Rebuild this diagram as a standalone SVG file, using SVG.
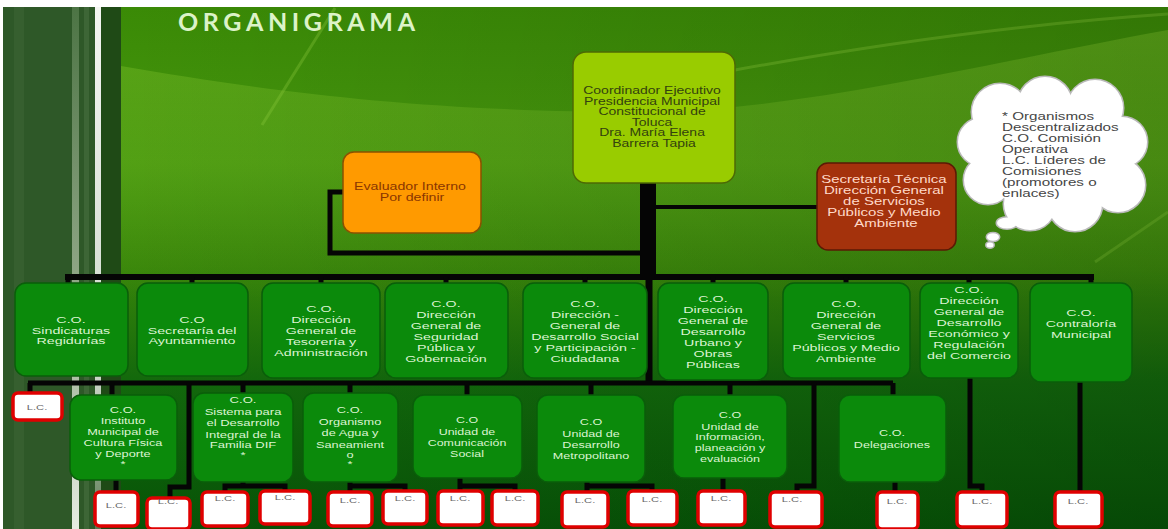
<svg xmlns="http://www.w3.org/2000/svg" width="1168" height="529" viewBox="0 0 1168 529">
<defs>
<linearGradient id="bg" x1="0" y1="0" x2="0" y2="1">
<stop offset="0" stop-color="#3a8a06"/>
<stop offset="0.3" stop-color="#46960e"/>
<stop offset="0.5" stop-color="#38850a"/>
<stop offset="0.72" stop-color="#12680c"/>
<stop offset="1" stop-color="#075407"/>
</linearGradient>
<linearGradient id="shade" x1="0" y1="0" x2="1" y2="0">
<stop offset="0" stop-color="#000" stop-opacity="0"/>
<stop offset="1" stop-color="#000" stop-opacity="0.14"/>
</linearGradient>
<linearGradient id="swoosh" x1="0" y1="0" x2="0" y2="1">
<stop offset="0" stop-color="#7cc02a" stop-opacity="0.45"/>
<stop offset="1" stop-color="#7cc02a" stop-opacity="0"/>
</linearGradient>
<linearGradient id="stripe" x1="0" y1="0" x2="0" y2="1">
<stop offset="0" stop-color="#4c7444"/>
<stop offset="0.6" stop-color="#9aae90"/>
<stop offset="1" stop-color="#e6ece2"/>
</linearGradient>
<linearGradient id="white" x1="0" y1="0" x2="0" y2="1">
<stop offset="0" stop-color="#f4f6f2"/>
<stop offset="0.7" stop-color="#cfd8cc"/>
<stop offset="1" stop-color="#5a7a52"/>
</linearGradient>
<style>
.co{fill:#0b8a0b;stroke:#0a5e0a;stroke-width:1.5}
.t{font-family:"Liberation Sans",Arial,sans-serif;text-anchor:middle}
.tw{fill:#dcf4d2;font-size:9.5px}
.t3{fill:#dcf4d2;font-size:9px}
.lc{fill:#ffffff;stroke:#e00000;stroke-width:3.5}
.lct{font-family:"Liberation Sans",Arial,sans-serif;text-anchor:middle;font-size:8px;fill:#666}
.ln{stroke:#050505;fill:none}
.cl{fill:#fff;stroke:#b9b9b9;stroke-width:3}
.cf{fill:#fff}
</style>
</defs>

<!-- background -->
<rect width="1168" height="529" fill="#ffffff"/>
<rect x="3" y="7" width="92" height="522" fill="#2e5828"/>
<rect x="14" y="7" width="10" height="522" fill="#365f2f"/>
<rect x="72" y="7" width="7" height="522" fill="url(#stripe)"/>
<rect x="84" y="7" width="5" height="522" fill="#3d6636"/>
<rect x="95" y="7" width="6" height="522" fill="url(#white)"/>
<rect x="101" y="7" width="20" height="522" fill="#1f4a16"/>
<rect x="121" y="7" width="1047" height="522" fill="url(#bg)"/>
<path d="M121 66 C 260 90 420 112 640 112 C 800 112 1000 60 1168 30 L1168 300 L121 300 Z" fill="url(#swoosh)"/>
<path d="M735 70 C 900 40 1050 22 1168 14" stroke="#8ccc3c" stroke-opacity="0.35" stroke-width="3" fill="none"/>
<path d="M335 8 L262 125" stroke="#8ccc3c" stroke-opacity="0.35" stroke-width="3" fill="none"/>
<path d="M1095 262 L1168 212" stroke="#8ccc3c" stroke-opacity="0.3" stroke-width="3" fill="none"/>
<rect x="121" y="7" width="1047" height="522" fill="url(#shade)"/>

<text x="178" y="31" font-family="Lato,'Liberation Sans',sans-serif" font-weight="700" font-size="25" fill="#dcf3c8" textLength="237" lengthAdjust="spacing">ORGANIGRAMA</text>

<!-- connectors -->
<g id="connectors">
<path class="ln" stroke-width="16" d="M648 182 V279"/>
<path class="ln" stroke-width="7" d="M649 279 V385"/>
<path class="ln" stroke-width="5" d="M344 192 H330 V253 H641"/>
<path class="ln" stroke-width="4" d="M656 207 H818"/>
<path class="ln" stroke-width="6" d="M65 277 H1094"/>
<path class="ln" stroke-width="5" d="M68 277 V285 M192 277 V285 M321 277 V285 M446 277 V285 M585 277 V285 M713 277 V285 M846 277 V285 M969 277 V285 M1091 277 V285"/>
<path class="ln" stroke-width="5" d="M28 383 H893"/>
<path class="ln" stroke-width="5" d="M30 383 V394 M112 383 V397 M243 383 V395 M350 383 V395 M467 383 V397 M591 383 V397 M730 383 V397 M893 383 V397"/>
<path class="ln" stroke-width="5" d="M189 383 V487 H170 V499"/>
<path class="ln" stroke-width="5" d="M116 480 V493"/>
<path class="ln" stroke-width="5" d="M225 493 V486 H285 V492 M243 482 V486"/>
<path class="ln" stroke-width="5" d="M350 482 V493 M350 486 H405 V492"/>
<path class="ln" stroke-width="5" d="M460 478 V492 M460 486 H515 V492"/>
<path class="ln" stroke-width="5" d="M587 482 V493 M587 486 H652 V492"/>
<path class="ln" stroke-width="5" d="M723 478 V492"/>
<path class="ln" stroke-width="5" d="M814 383 V486 H797 V493"/>
<path class="ln" stroke-width="5" d="M895 482 V493"/>
<path class="ln" stroke-width="5" d="M970 378 V486 H982 V493"/>
<path class="ln" stroke-width="5" d="M1080 382 V493"/>
</g>

<!-- top node -->
<g id="coordinador">
<rect x="573" y="52" width="162" height="131" rx="13" fill="#99cc00" stroke="#4d6a05" stroke-width="1.5"/>
<g transform="translate(654,0) scale(1.4,1)">
<text class="t" font-size="10" fill="#33420e">
<tspan x="0" y="94">Coordinador Ejecutivo</tspan>
<tspan x="0" y="104.6">Presidencia Municipal</tspan>
<tspan x="0" y="115.2">Constitucional de</tspan>
<tspan x="0" y="125.8">Toluca</tspan>
<tspan x="0" y="136.4">Dra. María Elena</tspan>
<tspan x="0" y="147">Barrera Tapia</tspan>
</text>
</g>
</g>

<g id="evaluador">
<rect x="343" y="152" width="138" height="81" rx="11" fill="#ff9a00" stroke="#8a5200" stroke-width="1.5"/>
<g transform="translate(412,0) scale(1.42,1)">
<text class="t" font-size="10" fill="#8a3600">
<tspan x="0" y="190">Evaluador Interno</tspan>
<tspan x="0" y="201">Por definir</tspan>
</text>
</g>
</g>

<g id="secretaria">
<rect x="817" y="163" width="139" height="87" rx="11" fill="#a4320c" stroke="#5a1a05" stroke-width="1.5"/>
<g transform="translate(886,0) scale(1.5,1)">
<text class="t" font-size="10" fill="#ffd9c8">
<tspan x="0" y="183">Secretaría Técnica</tspan>
<tspan x="0" y="194">Dirección General</tspan>
<tspan x="0" y="205">de Servicios</tspan>
<tspan x="0" y="216">Públicos y Medio</tspan>
<tspan x="0" y="227">Ambiente</tspan>
</text>
</g>
</g>

<g id="nota">
<g class="cl">
<circle cx="1000" cy="112" r="28"/>
<circle cx="1045" cy="104" r="27"/>
<circle cx="1095" cy="108" r="28"/>
<circle cx="1122" cy="142" r="25"/>
<circle cx="1118" cy="185" r="27"/>
<circle cx="1075" cy="204" r="27"/>
<circle cx="1030" cy="204" r="26"/>
<circle cx="988" cy="180" r="24"/>
<circle cx="982" cy="142" r="24"/>
<ellipse cx="1007" cy="223" rx="10" ry="5.5"/>
<ellipse cx="993" cy="237" rx="6" ry="3.8"/>
<ellipse cx="990" cy="245" rx="3.5" ry="2.5"/>
</g>
<g class="cf">
<circle cx="1000" cy="112" r="28"/>
<circle cx="1045" cy="104" r="27"/>
<circle cx="1095" cy="108" r="28"/>
<circle cx="1122" cy="142" r="25"/>
<circle cx="1118" cy="185" r="27"/>
<circle cx="1075" cy="204" r="27"/>
<circle cx="1030" cy="204" r="26"/>
<circle cx="988" cy="180" r="24"/>
<circle cx="982" cy="142" r="24"/>
<ellipse cx="1052" cy="155" rx="72" ry="58"/>
<ellipse cx="1007" cy="223" rx="10" ry="5.5"/>
<ellipse cx="993" cy="237" rx="6" ry="3.8"/>
<ellipse cx="990" cy="245" rx="3.5" ry="2.5"/>
</g>
<g transform="translate(1002,0) scale(1.45,1)">
<text font-family="'Liberation Sans',Arial,sans-serif" font-size="10.5" fill="#454545">
<tspan x="0" y="120">* Organismos</tspan>
<tspan x="0" y="131">Descentralizados</tspan>
<tspan x="0" y="142">C.O. Comisión</tspan>
<tspan x="0" y="153">Operativa</tspan>
<tspan x="0" y="164">L.C. Líderes de</tspan>
<tspan x="0" y="175">Comisiones</tspan>
<tspan x="0" y="186">(promotores o</tspan>
<tspan x="0" y="197">enlaces)</tspan>
</text>
</g>
</g>

<!-- row 2 -->
<g id="sindicaturas">
<rect class="co" x="15" y="283" width="113" height="93" rx="11"/>
<g transform="translate(71,0) scale(1.5,1)"><text class="t tw"><tspan x="0" y="323">C.O.</tspan><tspan x="0" y="334">Sindicaturas</tspan><tspan x="0" y="344">Regidurías</tspan></text></g>
</g>
<g id="secretaria-ayuntamiento">
<rect class="co" x="137" y="283" width="111" height="93" rx="11"/>
<g transform="translate(192,0) scale(1.5,1)"><text class="t tw"><tspan x="0" y="323">C.O</tspan><tspan x="0" y="334">Secretaría del</tspan><tspan x="0" y="344">Ayuntamiento</tspan></text></g>
</g>
<g id="tesoreria">
<rect class="co" x="262" y="283" width="118" height="95" rx="11"/>
<g transform="translate(321,0) scale(1.5,1)"><text class="t tw"><tspan x="0" y="312">C.O.</tspan><tspan x="0" y="323">Dirección</tspan><tspan x="0" y="334">General de</tspan><tspan x="0" y="345">Tesorería y</tspan><tspan x="0" y="356">Administración</tspan></text></g>
</g>
<g id="seguridad">
<rect class="co" x="385" y="283" width="123" height="95" rx="11"/>
<g transform="translate(446,0) scale(1.5,1)"><text class="t tw"><tspan x="0" y="307">C.O.</tspan><tspan x="0" y="318">Dirección</tspan><tspan x="0" y="329">General de</tspan><tspan x="0" y="340">Seguridad</tspan><tspan x="0" y="351">Pública y</tspan><tspan x="0" y="362">Gobernación</tspan></text></g>
</g>
<g id="desarrollo-social">
<rect class="co" x="523" y="283" width="124" height="95" rx="11"/>
<g transform="translate(585,0) scale(1.5,1)"><text class="t tw"><tspan x="0" y="307">C.O.</tspan><tspan x="0" y="318">Dirección -</tspan><tspan x="0" y="329">General de</tspan><tspan x="0" y="340">Desarrollo Social</tspan><tspan x="0" y="351">y Participación -</tspan><tspan x="0" y="362">Ciudadana</tspan></text></g>
</g>
<g id="desarrollo-urbano">
<rect class="co" x="658" y="283" width="110" height="97" rx="11"/>
<g transform="translate(713,0) scale(1.5,1)"><text class="t tw"><tspan x="0" y="302">C.O.</tspan><tspan x="0" y="313">Dirección</tspan><tspan x="0" y="324">General de</tspan><tspan x="0" y="335">Desarrollo</tspan><tspan x="0" y="346">Urbano y</tspan><tspan x="0" y="357">Obras</tspan><tspan x="0" y="368">Públicas</tspan></text></g>
</g>
<g id="servicios-publicos">
<rect class="co" x="783" y="283" width="127" height="95" rx="11"/>
<g transform="translate(846,0) scale(1.5,1)"><text class="t tw"><tspan x="0" y="307">C.O.</tspan><tspan x="0" y="318">Dirección</tspan><tspan x="0" y="329">General de</tspan><tspan x="0" y="340">Servicios</tspan><tspan x="0" y="351">Públicos y Medio</tspan><tspan x="0" y="362">Ambiente</tspan></text></g>
</g>
<g id="desarrollo-economico">
<rect class="co" x="920" y="283" width="98" height="95" rx="11"/>
<g transform="translate(969,0) scale(1.5,1)"><text class="t tw"><tspan x="0" y="293">C.O.</tspan><tspan x="0" y="304">Dirección</tspan><tspan x="0" y="315">General de</tspan><tspan x="0" y="326">Desarrollo</tspan><tspan x="0" y="337">Económico y</tspan><tspan x="0" y="348">Regulación</tspan><tspan x="0" y="359">del Comercio</tspan></text></g>
</g>
<g id="contraloria">
<rect class="co" x="1030" y="283" width="102" height="99" rx="11"/>
<g transform="translate(1081,0) scale(1.5,1)"><text class="t tw"><tspan x="0" y="316">C.O.</tspan><tspan x="0" y="327">Contraloría</tspan><tspan x="0" y="338">Municipal</tspan></text></g>
</g>

<!-- row 3 -->
<g id="cultura-fisica">
<rect class="co" x="70" y="395" width="107" height="85" rx="11"/>
<g transform="translate(123,0) scale(1.42,1)"><text class="t t3"><tspan x="0" y="413">C.O.</tspan><tspan x="0" y="424">Instituto</tspan><tspan x="0" y="435">Municipal de</tspan><tspan x="0" y="446">Cultura Física</tspan><tspan x="0" y="457">y Deporte</tspan><tspan x="0" y="467">*</tspan></text></g>
</g>
<g id="dif">
<rect class="co" x="193" y="393" width="100" height="89" rx="11"/>
<g transform="translate(243,0) scale(1.45,1)"><text class="t t3"><tspan x="0" y="403">C.O.</tspan><tspan x="0" y="415">Sistema para</tspan><tspan x="0" y="426">el Desarrollo</tspan><tspan x="0" y="438">Integral de la</tspan><tspan x="0" y="448">Familia DIF</tspan><tspan x="0" y="458">*</tspan></text></g>
</g>
<g id="agua">
<rect class="co" x="303" y="393" width="95" height="89" rx="11"/>
<g transform="translate(350,0) scale(1.42,1)"><text class="t t3"><tspan x="0" y="413">C.O.</tspan><tspan x="0" y="425">Organismo</tspan><tspan x="0" y="436">de Agua y</tspan><tspan x="0" y="448">Saneamient</tspan><tspan x="0" y="458">o</tspan><tspan x="0" y="467">*</tspan></text></g>
</g>
<g id="comunicacion">
<rect class="co" x="413" y="395" width="109" height="83" rx="11"/>
<g transform="translate(467,0) scale(1.38,1)"><text class="t t3"><tspan x="0" y="423">C.O</tspan><tspan x="0" y="435">Unidad de</tspan><tspan x="0" y="446">Comunicación</tspan><tspan x="0" y="457">Social</tspan></text></g>
</g>
<g id="metropolitano">
<rect class="co" x="537" y="395" width="108" height="87" rx="11"/>
<g transform="translate(591,0) scale(1.4,1)"><text class="t t3"><tspan x="0" y="425">C.O</tspan><tspan x="0" y="437">Unidad de</tspan><tspan x="0" y="448">Desarrollo</tspan><tspan x="0" y="459">Metropolitano</tspan></text></g>
</g>
<g id="informacion">
<rect class="co" x="673" y="395" width="114" height="83" rx="11"/>
<g transform="translate(730,0) scale(1.4,1)"><text class="t t3"><tspan x="0" y="418">C.O</tspan><tspan x="0" y="430">Unidad de</tspan><tspan x="0" y="440">Información,</tspan><tspan x="0" y="451">planeación y</tspan><tspan x="0" y="462">evaluación</tspan></text></g>
</g>
<g id="delegaciones">
<rect class="co" x="839" y="395" width="107" height="87" rx="11"/>
<g transform="translate(892,0) scale(1.4,1)"><text class="t t3"><tspan x="0" y="436">C.O.</tspan><tspan x="0" y="448">Delegaciones</tspan></text></g>
</g>

<!-- L.C. boxes -->
<g id="lc-0"><rect class="lc" x="13" y="393" width="49" height="27" rx="5"/><g transform="translate(37,0) scale(1.4,1)"><text class="lct" x="0" y="410">L.C.</text></g></g>
<g id="lc-1"><rect class="lc" x="95" y="492" width="43" height="34" rx="5"/><g transform="translate(116,0) scale(1.4,1)"><text class="lct" x="0" y="508">L.C.</text></g></g>
<g id="lc-2"><rect class="lc" x="147" y="498" width="43" height="31" rx="5"/><g transform="translate(168,0) scale(1.4,1)"><text class="lct" x="0" y="504">L.C.</text></g></g>
<g id="lc-3"><rect class="lc" x="202" y="492" width="46" height="34" rx="5"/><g transform="translate(225,0) scale(1.4,1)"><text class="lct" x="0" y="501">L.C.</text></g></g>
<g id="lc-4"><rect class="lc" x="260" y="491" width="50" height="33" rx="5"/><g transform="translate(285,0) scale(1.4,1)"><text class="lct" x="0" y="500">L.C.</text></g></g>
<g id="lc-5"><rect class="lc" x="328" y="492" width="44" height="34" rx="5"/><g transform="translate(350,0) scale(1.4,1)"><text class="lct" x="0" y="503">L.C.</text></g></g>
<g id="lc-6"><rect class="lc" x="383" y="491" width="44" height="33" rx="5"/><g transform="translate(405,0) scale(1.4,1)"><text class="lct" x="0" y="501">L.C.</text></g></g>
<g id="lc-7"><rect class="lc" x="438" y="491" width="45" height="34" rx="5"/><g transform="translate(460,0) scale(1.4,1)"><text class="lct" x="0" y="501">L.C.</text></g></g>
<g id="lc-8"><rect class="lc" x="492" y="491" width="46" height="34" rx="5"/><g transform="translate(515,0) scale(1.4,1)"><text class="lct" x="0" y="501">L.C.</text></g></g>
<g id="lc-9"><rect class="lc" x="562" y="492" width="46" height="35" rx="5"/><g transform="translate(585,0) scale(1.4,1)"><text class="lct" x="0" y="503">L.C.</text></g></g>
<g id="lc-10"><rect class="lc" x="628" y="491" width="49" height="34" rx="5"/><g transform="translate(652,0) scale(1.4,1)"><text class="lct" x="0" y="502">L.C.</text></g></g>
<g id="lc-11"><rect class="lc" x="698" y="491" width="47" height="34" rx="5"/><g transform="translate(721,0) scale(1.4,1)"><text class="lct" x="0" y="501">L.C.</text></g></g>
<g id="lc-12"><rect class="lc" x="770" y="492" width="52" height="35" rx="5"/><g transform="translate(792,0) scale(1.4,1)"><text class="lct" x="0" y="502">L.C.</text></g></g>
<g id="lc-13"><rect class="lc" x="877" y="492" width="41" height="37" rx="5"/><g transform="translate(897,0) scale(1.4,1)"><text class="lct" x="0" y="504">L.C.</text></g></g>
<g id="lc-14"><rect class="lc" x="957" y="492" width="50" height="35" rx="5"/><g transform="translate(982,0) scale(1.4,1)"><text class="lct" x="0" y="504">L.C.</text></g></g>
<g id="lc-15"><rect class="lc" x="1055" y="492" width="47" height="35" rx="5"/><g transform="translate(1078,0) scale(1.4,1)"><text class="lct" x="0" y="504">L.C.</text></g></g>
</svg>
